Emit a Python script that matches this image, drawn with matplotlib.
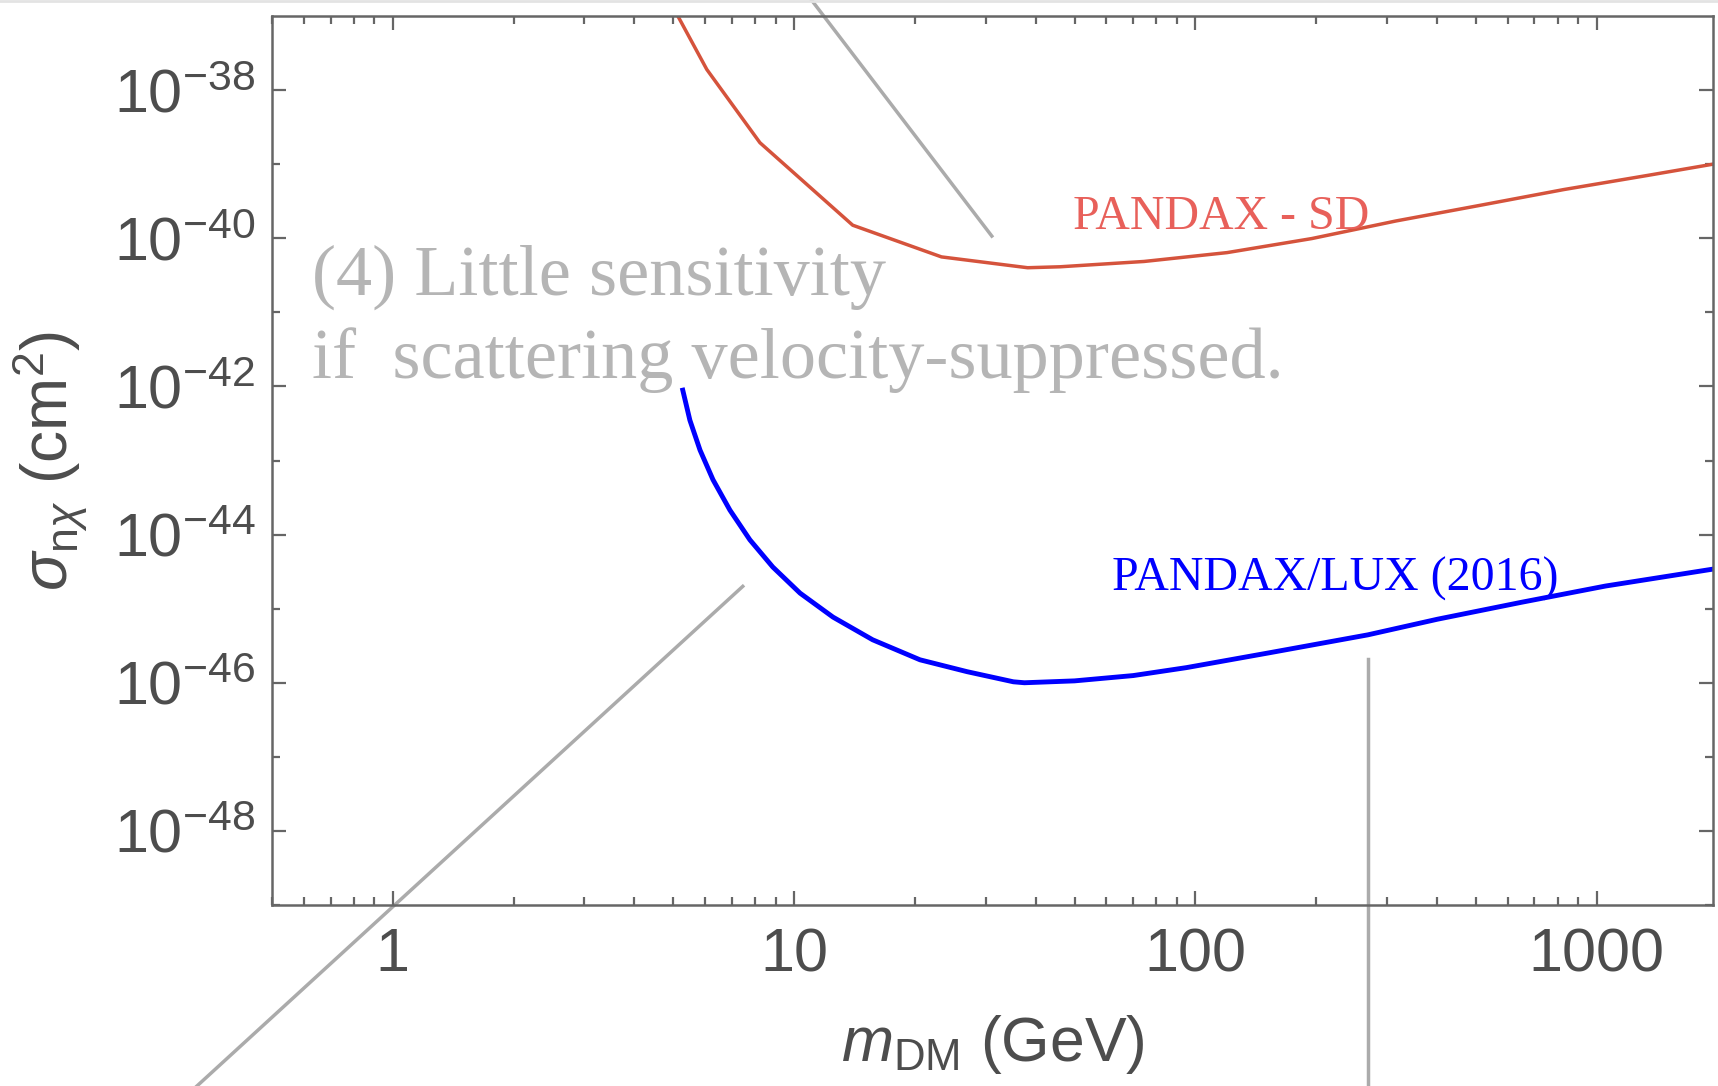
import numpy as np
import matplotlib.pyplot as plt
from matplotlib.ticker import FixedLocator, FixedFormatter, NullFormatter

plt.rcParams['font.family'] = ['Liberation Sans', 'DejaVu Sans']
plt.rcParams['mathtext.fontset'] = 'custom'
plt.rcParams['mathtext.rm'] = 'Liberation Sans'
plt.rcParams['mathtext.it'] = 'Liberation Sans:italic'
plt.rcParams['mathtext.bf'] = 'Liberation Sans:bold'

# PANDAX - SD limit (mass in GeV, cross section in cm^2)
sd_mass = [5.0, 6.06, 8.22, 14.0, 23.3, 38.2, 46.0, 74.5, 120.0, 195.0, 316.0,
           512.0, 828.0, 1340.0, 1950.0]
sd_sigma = [1.3e-37, 1.9e-38, 1.95e-39, 1.5e-40, 5.6e-41, 4.0e-41, 4.12e-41,
            4.86e-41, 6.4e-41, 9.9e-41, 1.71e-40, 2.78e-40, 4.54e-40, 7.05e-40, 1.0e-39]

# PANDAX/LUX (2016) limit
lux_mass = [5.28, 5.5, 5.83, 6.28, 6.92, 7.76, 8.85, 10.35, 12.5, 15.7, 20.6, 27.0,
            35.2, 37.5, 50.0, 70.0, 95.0, 153.0, 269.0, 401.0, 650.0, 1052.0, 1950.0]
lux_sigma = [8.9e-43, 3.5e-43, 1.38e-43, 5.5e-44, 2.14e-44, 8.5e-45, 3.65e-45, 1.62e-45,
             7.7e-46, 3.8e-46, 2.04e-46, 1.41e-46, 1.03e-46, 1.0e-46, 1.06e-46, 1.25e-46,
             1.6e-46, 2.54e-46, 4.43e-46, 7.2e-46, 1.22e-45, 2.02e-45, 3.42e-45]

# pointer lines of the annotation (data coords, run outside the frame)
ptr_top_x = [11.0, 31.1]
ptr_top_y = [1.7e-37, 1.07e-40]
ptr_left_x = [0.325, 7.45]
ptr_left_y = [3.6e-52, 2.0e-45]
ptr_vert_x = [269.0, 269.0]
ptr_vert_y = [2.1e-46, 3.6e-52]

y_major = [1e-38, 1e-40, 1e-42, 1e-44, 1e-46, 1e-48]
y_major_labels = [r'$10^{-38}$', r'$10^{-40}$', r'$10^{-42}$', r'$10^{-44}$',
                  r'$10^{-46}$', r'$10^{-48}$']
y_minor = [1e-39, 1e-41, 1e-43, 1e-45, 1e-47, 1e-49]
x_major = [1, 10, 100, 1000]
x_major_labels = ['1', '10', '100', '1000']

frame_col = '#666666'
text_col = '#4d4d4d'
note_col = '#b5b5b5'

fig = plt.figure(figsize=(17.18, 10.86), dpi=100)
ax = fig.add_axes([272 / 1718, 1 - 905 / 1086, 1441 / 1718, 889 / 1086])
ax.set_xscale('log')
ax.set_yscale('log')
ax.set_xlim(0.5, 1950)
ax.set_ylim(1e-49, 1e-37)

ax.plot(sd_mass, sd_sigma, color='#d5533c', lw=2.5, solid_joinstyle='round')
ax.plot(lux_mass, lux_sigma, color='#0000ff', lw=3.5, solid_joinstyle='round')

for xs, ys in [(ptr_top_x, ptr_top_y), (ptr_left_x, ptr_left_y), (ptr_vert_x, ptr_vert_y)]:
    ax.plot(xs, ys, color='#ababab', lw=2.5, clip_on=False, zorder=1)

ax.yaxis.set_major_locator(FixedLocator(y_major))
ax.yaxis.set_major_formatter(FixedFormatter(y_major_labels))
ax.yaxis.set_minor_locator(FixedLocator(y_minor))
ax.yaxis.set_minor_formatter(NullFormatter())
ax.xaxis.set_major_locator(FixedLocator(x_major))
ax.xaxis.set_major_formatter(FixedFormatter(x_major_labels))
x_minor = [m * d for d in [0.1, 1, 10, 100, 1000] for m in range(2, 10)]
ax.xaxis.set_minor_locator(FixedLocator(x_minor))
ax.xaxis.set_minor_formatter(NullFormatter())

ax.tick_params(which='both', direction='in', top=True, right=True,
               color=frame_col, width=1.6, labelcolor=text_col, labelsize=44)
ax.tick_params(which='major', length=10)
ax.tick_params(which='minor', length=6)
ax.tick_params(axis='y', pad=12)
ax.tick_params(axis='x', pad=16)
for s in ax.spines.values():
    s.set_color(frame_col)
    s.set_linewidth(1.8)

ax.set_xlabel(r'$m_{\mathrm{DM}}$ (GeV)', fontsize=45, color=text_col)
ax.xaxis.set_label_coords(0.5, -0.122)
ax.set_ylabel(r'$\sigma_{\mathrm{n}\chi}$ (cm$^2$)', fontsize=46, color=text_col)
ax.yaxis.set_label_coords(-0.127, 0.5)

serif = ['Liberation Serif', 'DejaVu Serif']
fig.text(312 / 1718, 1 - 295 / 1086, '(4) Little sensitivity', family=serif,
         fontsize=52, color=note_col, va='baseline', ha='left')
fig.text(312 / 1718, 1 - 378 / 1086, 'if  scattering velocity-suppressed.', family=serif,
         fontsize=52, color=note_col, va='baseline', ha='left')
fig.text(1073 / 1718, 1 - 229 / 1086, 'PANDAX - SD', family=serif,
         fontsize=34.5, color='#e8605a', va='baseline', ha='left')
fig.text(1112 / 1718, 1 - 591 / 1086, 'PANDAX/LUX (2016)', family=serif,
         fontsize=34.5, color='#0000ff', va='baseline', ha='left')

# thin page border at the very top
fig.add_artist(plt.Line2D([0, 1], [0.999, 0.999], color='#e3e3e3', lw=2))

fig.savefig('out.png', dpi=100)
